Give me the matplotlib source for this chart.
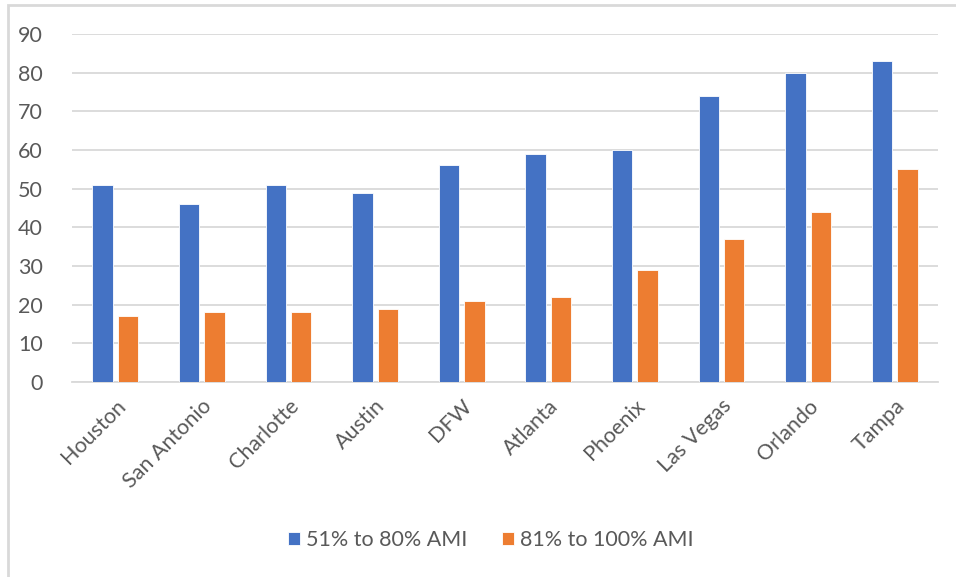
import numpy as np
import matplotlib
matplotlib.use("Agg")
import matplotlib.pyplot as plt
from matplotlib.patches import Rectangle

cities = ['Houston', 'San Antonio', 'Charlotte', 'Austin', 'DFW',
          'Atlanta', 'Phoenix', 'Las Vegas', 'Orlando', 'Tampa']
ami_51_80 = [51, 46, 51, 49, 56, 59, 60, 74, 80, 83]
ami_81_100 = [17, 18, 18, 19, 21, 22, 29, 37, 44, 55]
series_names = ['51% to 80% AMI', '81% to 100% AMI']

blue = '#4472C4'
orange = '#ED7D31'
text_gray = '#595959'
grid_gray = '#d9d9d9'

plt.rcParams['font.family'] = ['Lato', 'DejaVu Sans']

fig = plt.figure(figsize=(9.56, 5.77), dpi=100)
ax = fig.add_axes([72 / 956, 1 - 382 / 577, 866 / 956, 348 / 577])

x = np.arange(len(cities))
w = 0.235
gap = 0.06
ax.bar(x - (w + gap) / 2, ami_51_80, w, color=blue, edgecolor='white',
       linewidth=0.6, label=series_names[0], zorder=3)
ax.bar(x + (w + gap) / 2, ami_81_100, w, color=orange, edgecolor='white',
       linewidth=0.6, label=series_names[1], zorder=3)

ax.set_xlim(-0.5, len(cities) - 0.5)
ax.set_ylim(0, 90)
ax.set_yticks(range(0, 91, 10))
ax.yaxis.grid(True, color=grid_gray, linewidth=1.3, zorder=0)
for s in ['top', 'right', 'left']:
    ax.spines[s].set_visible(False)
ax.spines['bottom'].set_color(grid_gray)
ax.spines['bottom'].set_linewidth(1.3)
ax.tick_params(axis='both', length=0, labelsize=15.5, labelcolor=text_gray)
ax.tick_params(axis='y', pad=21)
ax.set_xticks(x)
ax.set_xticklabels(cities, rotation=45, ha='right', rotation_mode='anchor')
ax.tick_params(axis='x', pad=10)

fig.legend(loc='center', bbox_to_anchor=(491 / 956, 1 - 540 / 577), ncol=2,
           frameon=False, fontsize=15.5, labelcolor=text_gray,
           handlelength=0.55, handleheight=0.55, handletextpad=0.3,
           columnspacing=1.6)

# chart frame
fig.patches.append(Rectangle((8 / 956, -0.1), 1.2, 1 - 5 / 577 + 0.1,
                             transform=fig.transFigure, fill=False,
                             edgecolor=grid_gray, linewidth=2))

fig.savefig('out.png', dpi=100, facecolor='white')
